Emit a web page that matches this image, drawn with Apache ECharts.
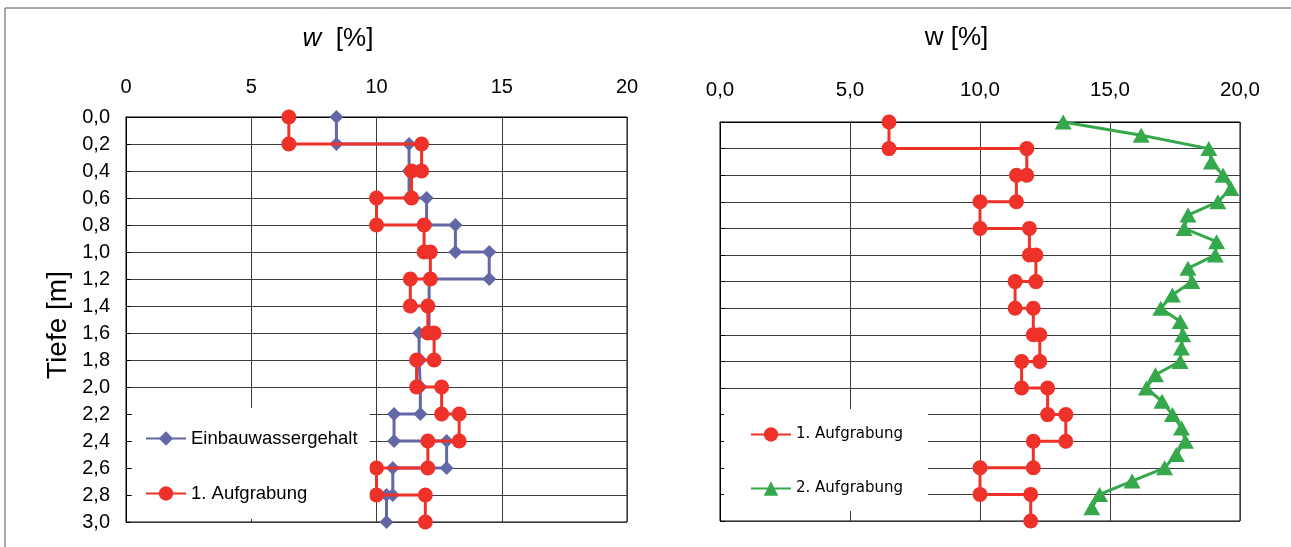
<!DOCTYPE html>
<html>
<head>
<meta charset="utf-8">
<script src="https://cdn.jsdelivr.net/npm/echarts@6/dist/echarts.min.js"></script>
<style>
html,body{margin:0;padding:0;background:#fff;}
#c{width:1291px;height:547px;}
</style>
</head>
<body>
<div id="c"></div>
<script>
// Layer boundaries (depth, m)
const depthLayers = [0.0, 0.2, 0.4, 0.6, 0.8, 1.0, 1.2, 1.4, 1.6, 1.8, 2.0, 2.2, 2.4, 2.6, 2.8, 3.0];
// Einbauwassergehalt per 0.2 m layer (%)
const einbau = [8.4, 11.3, 11.3, 12.0, 13.15, 14.5, 12.1, 12.1, 11.7, 11.75, 11.75, 10.7, 12.8, 10.65, 10.4];
// 1. Aufgrabung per 0.2 m layer (%)
const aufgrabung1 = [6.5, 11.8, 11.4, 10.0, 11.9, 12.15, 11.35, 12.05, 12.3, 11.6, 12.6, 13.3, 12.05, 10.0, 11.95];
// 2. Aufgrabung depths (m) and values (%)
const depth2 = [0.0, 0.1, 0.2, 0.3, 0.4, 0.5, 0.6, 0.7, 0.8, 0.9, 1.0, 1.1, 1.2, 1.3, 1.4, 1.5, 1.6, 1.7, 1.8, 1.9, 2.0, 2.1, 2.2, 2.3, 2.4, 2.5, 2.6, 2.7, 2.8, 2.9];
const aufgrabung2 = [13.2, 16.2, 18.8, 18.9, 19.35, 19.65, 19.15, 18.0, 17.85, 19.1, 19.05, 18.0, 18.15, 17.4, 16.95, 17.7, 17.8, 17.75, 17.7, 16.75, 16.4, 17.0, 17.4, 17.75, 17.9, 17.55, 17.1, 15.85, 14.6, 14.3];
const seriesNames = ['Einbauwassergehalt', '1. Aufgrabung', '2. Aufgrabung'];

function stepPairs(values) {
  const out = [];
  values.forEach((v, i) => {
    out.push([v, depthLayers[i]]);
    out.push([v, depthLayers[i + 1]]);
  });
  return out;
}
function pairs(values, depths) {
  return values.map((v, i) => [v, depths[i]]);
}
const comma1 = v => (Math.round(v * 10) / 10).toFixed(1).replace('.', ',');

const RED = '#EE3129', BLUE = '#6467A5', GREEN = '#34A84A';
const gridLine = { show: true, lineStyle: { color: '#3c3c3c', width: 1 } };
const FONT = 'Liberation Sans';

const chart = echarts.init(document.getElementById('c'));
chart.setOption({
  backgroundColor: '#fff',
  animation: false,
  graphic: [
    { type: 'line', shape: { x1: 5, y1: 8, x2: 1291, y2: 8 }, style: { stroke: '#555', lineWidth: 1 } },
    { type: 'line', shape: { x1: 5, y1: 8, x2: 5, y2: 547 }, style: { stroke: '#555', lineWidth: 1 } }
  ],
  grid: [
    { left: 126, top: 117, width: 501, height: 405, show: true, borderColor: '#000', borderWidth: 1, backgroundColor: 'transparent' },
    { left: 720, top: 122, width: 520, height: 399, show: true, borderColor: '#000', borderWidth: 1, backgroundColor: 'transparent' }
  ],
  xAxis: [
    {
      gridIndex: 0, type: 'value', position: 'top', min: 0, max: 20, interval: 5,
      name: '{i|w}  [%]', nameLocation: 'middle', nameGap: 65,
      nameTextStyle: { fontFamily: FONT, fontSize: 26, color: '#000', padding: [0, 77, 0, 0],
        rich: { i: { fontStyle: 'italic', fontFamily: FONT, fontSize: 26, color: '#000' } } },
      axisLine: { show: true, lineStyle: { color: '#000' } },
      axisTick: { show: false },
      axisLabel: { color: '#000', fontFamily: FONT, fontSize: 20, margin: 20 },
      splitLine: gridLine
    },
    {
      gridIndex: 1, type: 'value', position: 'top', min: 0, max: 20, interval: 5,
      name: 'w [%]', nameLocation: 'middle', nameGap: 71,
      nameTextStyle: { fontFamily: FONT, fontSize: 26, color: '#000', padding: [0, 47, 0, 0] },
      axisLine: { show: true, lineStyle: { color: '#000' } },
      axisTick: { show: false },
      axisLabel: { color: '#000', fontFamily: FONT, fontSize: 20.5, margin: 21, formatter: comma1 },
      splitLine: gridLine
    }
  ],
  yAxis: [
    {
      gridIndex: 0, type: 'value', inverse: true, min: 0, max: 3, interval: 0.2,
      name: 'Tiefe [m]', nameLocation: 'middle', nameGap: 54, nameRotate: 90,
      nameTextStyle: { fontFamily: FONT, fontSize: 28, color: '#000', padding: [0, 11, 0, 0] },
      axisLine: { show: true, lineStyle: { color: '#000' } },
      axisTick: { show: true, inside: true, length: 5, lineStyle: { color: '#000' } },
      axisLabel: { color: '#000', fontFamily: FONT, fontSize: 20, margin: 16, formatter: comma1 },
      splitLine: gridLine
    },
    {
      gridIndex: 1, type: 'value', inverse: true, min: 0, max: 3, interval: 0.2,
      axisLine: { show: true, lineStyle: { color: '#000' } },
      axisTick: { show: true, inside: true, length: 5, lineStyle: { color: '#000' } },
      axisLabel: { show: false },
      splitLine: gridLine
    }
  ],
  legend: [
    {
      data: [seriesNames[0], seriesNames[1]],
      orient: 'vertical', left: 132, top: 408,
      padding: [21, 12, 16, 13], itemGap: 36, itemWidth: 40, itemHeight: 18,
      backgroundColor: '#fff',
      textStyle: { fontFamily: FONT, fontSize: 18.5, color: '#000' }
    },
    {
      data: [seriesNames[1], seriesNames[2]],
      orient: 'vertical', left: 724, top: 409,
      padding: [18, 25, 15, 26], itemGap: 39, itemWidth: 40, itemHeight: 18,
      backgroundColor: '#fff',
      textStyle: { fontFamily: 'DejaVu Sans', fontSize: 15, color: '#000' }
    }
  ],
  series: [
    {
      name: seriesNames[0], type: 'line', xAxisIndex: 0, yAxisIndex: 0,
      data: stepPairs(einbau), symbol: 'diamond', symbolSize: 14,
      itemStyle: { color: BLUE }, lineStyle: { color: BLUE, width: 3 }, z: 2
    },
    {
      name: seriesNames[1], type: 'line', xAxisIndex: 0, yAxisIndex: 0,
      data: stepPairs(aufgrabung1), symbol: 'circle', symbolSize: 15,
      itemStyle: { color: RED }, lineStyle: { color: RED, width: 3 }, z: 3
    },
    {
      name: seriesNames[1], type: 'line', xAxisIndex: 1, yAxisIndex: 1,
      data: stepPairs(aufgrabung1), symbol: 'circle', symbolSize: 15,
      itemStyle: { color: RED }, lineStyle: { color: RED, width: 3 }, z: 3
    },
    {
      name: seriesNames[2], type: 'line', xAxisIndex: 1, yAxisIndex: 1,
      data: pairs(aufgrabung2, depth2), symbol: 'triangle', symbolSize: [17, 15],
      itemStyle: { color: GREEN }, lineStyle: { color: GREEN, width: 3 }, z: 3
    }
  ]
});
</script>
</body>
</html>
